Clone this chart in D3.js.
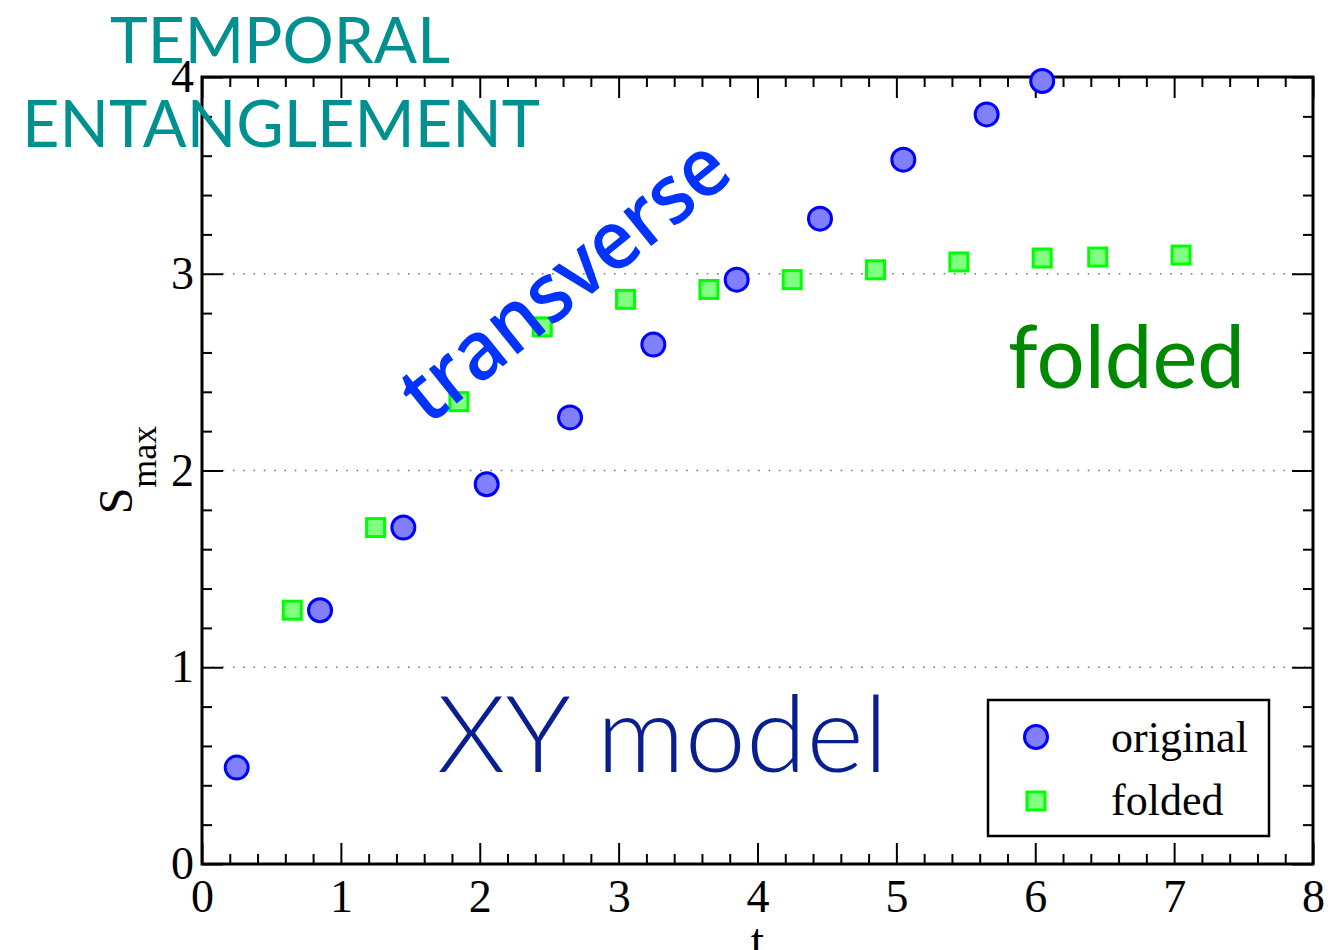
<!DOCTYPE html>
<html>
<head>
<meta charset="utf-8">
<script src="https://cdn.jsdelivr.net/npm/d3@7"></script>
<style>
  body { margin: 0; background: #fff; }
  svg { display: block; }
</style>
</head>
<body>
<svg width="1339" height="950"></svg>
<script>
// data
var tOriginal = [0.25, 0.85, 1.45, 2.05, 2.65, 3.25, 3.85, 4.45, 5.05, 5.65, 6.05];
var sOriginal = [0.49, 1.29, 1.71, 1.93, 2.27, 2.64, 2.97, 3.28, 3.58, 3.81, 3.98];
var tFolded = [0.65, 1.25, 1.85, 2.45, 3.05, 3.65, 4.25, 4.85, 5.45, 6.05, 6.45, 7.05];
var sFolded = [1.29, 1.71, 2.35, 2.73, 2.87, 2.92, 2.97, 3.02, 3.06, 3.08, 3.085, 3.095];
var xTicks = [0, 1, 2, 3, 4, 5, 6, 7, 8];
var yTicks = [0, 1, 2, 3, 4];
var gridLines = [1, 2, 3];
var legendItems = ['original', 'folded'];

var serif = '"Liberation Serif", "Times New Roman", serif';
var gill = 'Lato, "Open Sans", sans-serif';

var svg = d3.select('svg');
// plot box (window.top is reserved, so use prefixed names)
var plotLeft = 202, plotRight = 1313, plotTop = 77, plotBottom = 864;

var x = d3.scaleLinear().domain([0, 8]).range([plotLeft, plotRight]);
var y = d3.scaleLinear().domain([0, 4]).range([plotBottom, plotTop]);

var minorX = d3.range(0, 8.001, 0.2).filter(function(v) { return Math.abs(v - Math.round(v)) > 1e-6; });
var minorY = d3.range(0, 4.001, 0.2).filter(function(v) { return Math.abs(v - Math.round(v)) > 1e-6; });

// dotted grid
svg.append('g').selectAll('line')
    .data(gridLines)
    .enter().append('line')
    .attr('x1', plotLeft).attr('x2', plotRight)
    .attr('y1', function(d) { return y(d); })
    .attr('y2', function(d) { return y(d); })
    .attr('stroke', '#777')
    .attr('stroke-width', 1.6)
    .attr('stroke-dasharray', '1.6,8.7');

function styleAxis(g) {
    g.select('.domain').remove();
    g.selectAll('.tick line').attr('stroke', '#000').attr('stroke-width', 2);
    g.selectAll('.tick text').attr('fill', '#000').style('font-family', serif).style('font-size', '46px');
}

// bottom
svg.append('g').attr('transform', 'translate(0,' + plotBottom + ')')
    .call(d3.axisBottom(x).tickValues(xTicks).tickFormat(d3.format('d')).tickSize(-21).tickPadding(15))
    .call(styleAxis);
svg.append('g').attr('transform', 'translate(0,' + plotBottom + ')')
    .call(d3.axisBottom(x).tickValues(minorX).tickFormat('').tickSize(-10))
    .call(styleAxis);
// top
svg.append('g').attr('transform', 'translate(0,' + plotTop + ')')
    .call(d3.axisTop(x).tickValues(xTicks).tickFormat('').tickSize(-21))
    .call(styleAxis);
svg.append('g').attr('transform', 'translate(0,' + plotTop + ')')
    .call(d3.axisTop(x).tickValues(minorX).tickFormat('').tickSize(-10))
    .call(styleAxis);
// left
svg.append('g').attr('transform', 'translate(' + plotLeft + ',0)')
    .call(d3.axisLeft(y).tickValues(yTicks).tickFormat(d3.format('d')).tickSize(-21).tickPadding(8))
    .call(styleAxis);
svg.append('g').attr('transform', 'translate(' + plotLeft + ',0)')
    .call(d3.axisLeft(y).tickValues(minorY).tickFormat('').tickSize(-10))
    .call(styleAxis);
// right
svg.append('g').attr('transform', 'translate(' + plotRight + ',0)')
    .call(d3.axisRight(y).tickValues(yTicks).tickFormat('').tickSize(-21))
    .call(styleAxis);
svg.append('g').attr('transform', 'translate(' + plotRight + ',0)')
    .call(d3.axisRight(y).tickValues(minorY).tickFormat('').tickSize(-10))
    .call(styleAxis);

// frame
svg.append('rect')
    .attr('x', plotLeft).attr('y', plotTop)
    .attr('width', plotRight - plotLeft).attr('height', plotBottom - plotTop)
    .attr('fill', 'none').attr('stroke', '#000').attr('stroke-width', 3);

// axis titles
svg.append('text')
    .attr('x', x(4)).attr('y', 957)
    .attr('text-anchor', 'middle')
    .style('font-family', serif).style('font-size', '48px')
    .text('t');

var ylab = svg.append('text')
    .attr('transform', 'translate(132,470) rotate(-90)')
    .attr('text-anchor', 'middle')
    .style('font-family', serif).style('font-size', '48px');
ylab.append('tspan').text('S');
ylab.append('tspan').attr('dy', 24).style('font-size', '36px').text('max');

// points
var folded = tFolded.map(function(t, i) { return [t, sFolded[i]]; });
var original = tOriginal.map(function(t, i) { return [t, sOriginal[i]]; });

svg.append('g').selectAll('rect')
    .data(folded)
    .enter().append('rect')
    .attr('x', function(d) { return x(d[0]) - 9; })
    .attr('y', function(d) { return y(d[1]) - 9; })
    .attr('width', 18).attr('height', 18)
    .attr('fill', '#80ff80').attr('stroke', '#00ff00').attr('stroke-width', 3);

svg.append('g').selectAll('circle')
    .data(original)
    .enter().append('circle')
    .attr('cx', function(d) { return x(d[0]); })
    .attr('cy', function(d) { return y(d[1]); })
    .attr('r', 11.5)
    .attr('fill', '#8080ff').attr('stroke', '#0000ff').attr('stroke-width', 3);

// annotations
svg.append('text')
    .attr('x', 110).attr('y', 63)
    .attr('textLength', 340).attr('lengthAdjust', 'spacingAndGlyphs')
    .attr('fill', '#009090')
    .style('font-family', gill).style('font-size', '63px')
    .text('TEMPORAL');
svg.append('text')
    .attr('x', 22).attr('y', 147)
    .attr('textLength', 518).attr('lengthAdjust', 'spacingAndGlyphs')
    .attr('fill', '#009090')
    .style('font-family', gill).style('font-size', '65px')
    .text('ENTANGLEMENT');

svg.append('text')
    .attr('transform', 'translate(582,302) rotate(-39)')
    .attr('text-anchor', 'middle')
    .attr('textLength', 396).attr('lengthAdjust', 'spacingAndGlyphs')
    .attr('fill', '#0033ff')
    .style('font-family', '"Open Sans", sans-serif').style('font-size', '82px').style('font-weight', 600)
    .text('transverse');

svg.append('text')
    .attr('x', 1008).attr('y', 388)
    .attr('textLength', 237).attr('lengthAdjust', 'spacingAndGlyphs')
    .attr('fill', '#008800')
    .style('font-family', gill).style('font-size', '88px')
    .text('folded');

svg.append('text')
    .attr('x', 437).attr('y', 772)
    .attr('textLength', 451).attr('lengthAdjust', 'spacingAndGlyphs')
    .attr('fill', '#0a1f8f')
    .style('font-family', gill).style('font-size', '106px').style('font-weight', 300)
    .text('XY model');

// legend
var legend = svg.append('g');
legend.append('rect')
    .attr('x', 988).attr('y', 700).attr('width', 281).attr('height', 136)
    .attr('fill', '#fff').attr('stroke', '#000').attr('stroke-width', 2.5);
legend.append('circle')
    .attr('cx', 1036).attr('cy', 737).attr('r', 11.5)
    .attr('fill', '#8080ff').attr('stroke', '#0000ff').attr('stroke-width', 3);
legend.append('rect')
    .attr('x', 1027).attr('y', 792).attr('width', 18).attr('height', 18)
    .attr('fill', '#80ff80').attr('stroke', '#00ff00').attr('stroke-width', 3);
legend.selectAll('text.lbl')
    .data(legendItems)
    .enter().append('text')
    .attr('class', 'lbl')
    .attr('x', 1111)
    .attr('y', function(d, i) { return 752 + i * 63; })
    .style('font-family', serif).style('font-size', '44px')
    .text(function(d) { return d; });
</script>
</body>
</html>
